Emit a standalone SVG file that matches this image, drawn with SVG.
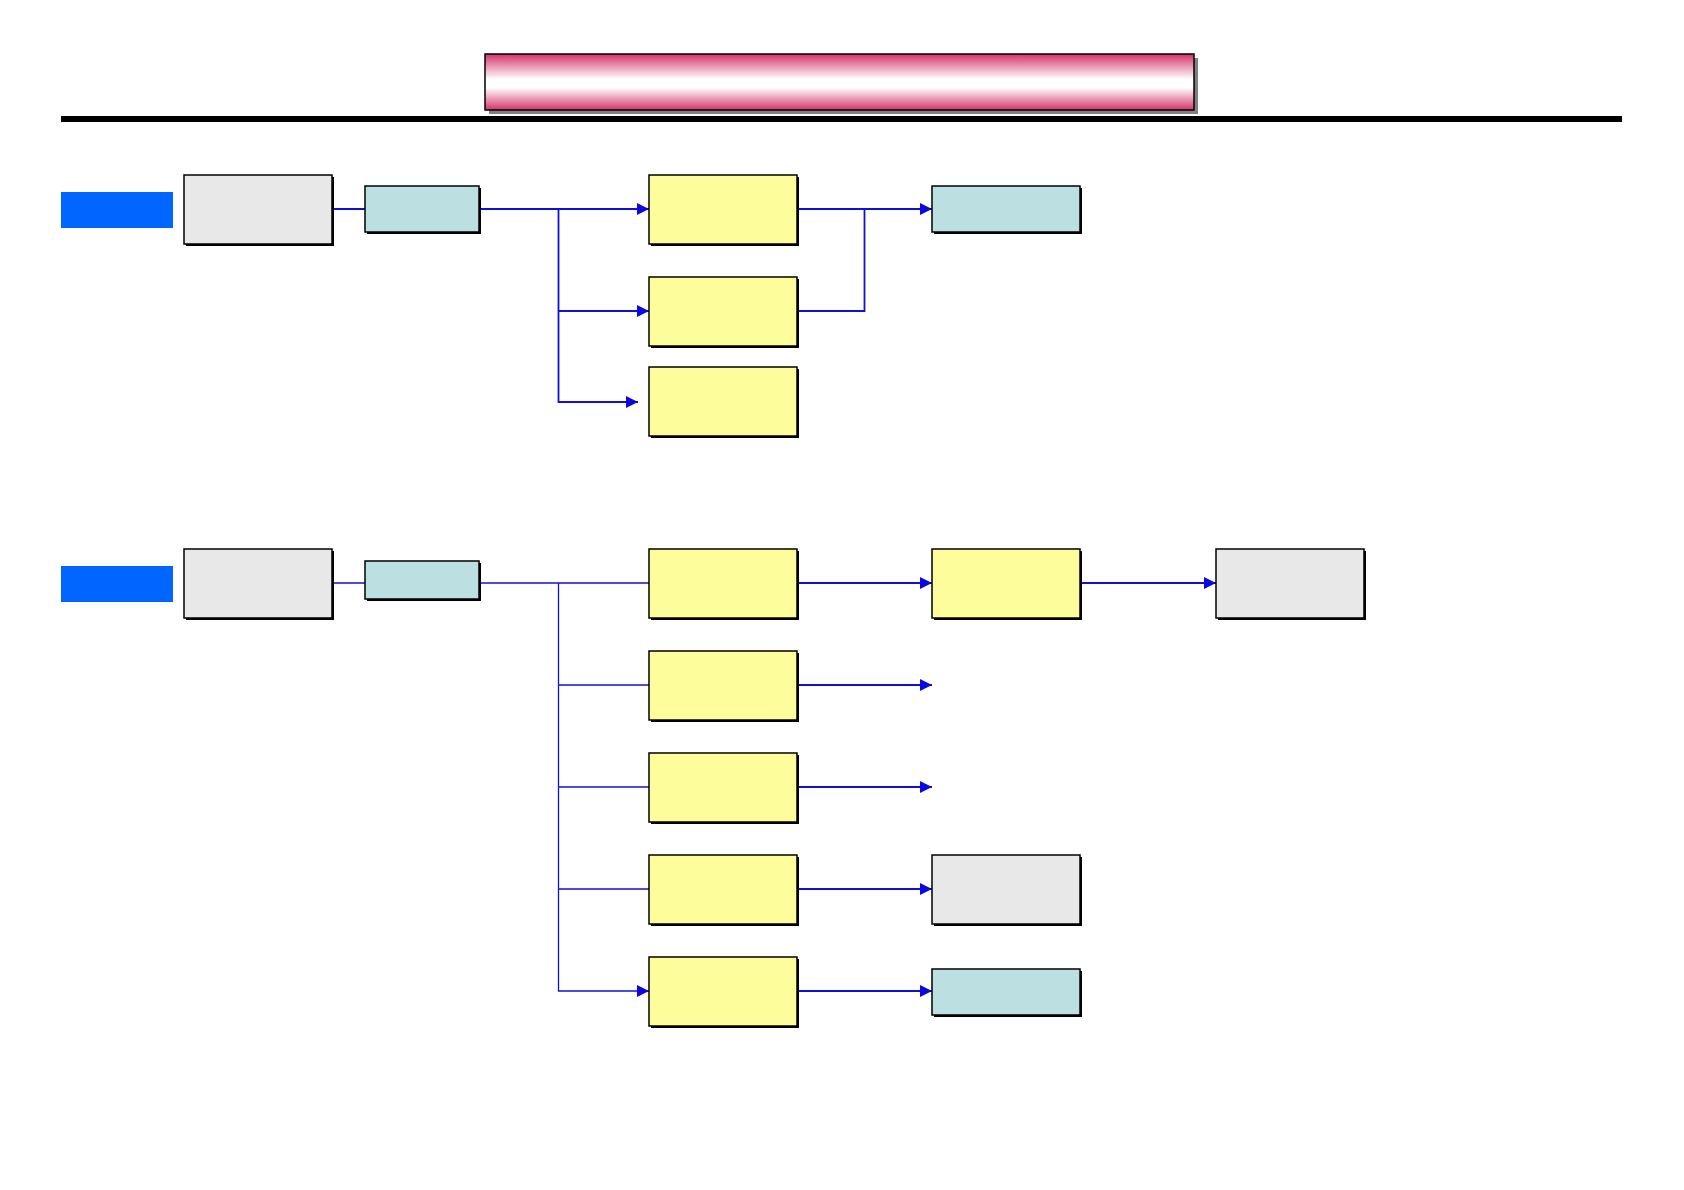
<svg xmlns="http://www.w3.org/2000/svg" width="1684" height="1190" viewBox="0 0 1684 1190">
<defs>
<linearGradient id="tg" x1="0" y1="0" x2="0" y2="1">
<stop offset="0" stop-color="#d4336a"/>
<stop offset="0.45" stop-color="#ffffff"/>
<stop offset="0.6" stop-color="#ffffff"/>
<stop offset="1" stop-color="#d4336a"/>
</linearGradient>
<marker id="ah" viewBox="0 0 10 10" refX="10" refY="5" markerWidth="12" markerHeight="12" markerUnits="userSpaceOnUse" orient="auto">
<path d="M0,0 L10,5 L0,10 Z" fill="#0a0ae0"/>
</marker>
</defs>
<style>
.box{stroke:#000;stroke-width:1.5}
.sh{fill:#000}
.gray{fill:#e8e8e8}
.teal{fill:#bce0e1}
.yel{fill:#fdfd9c}
.lbl{fill:#0066ff}
.c{fill:none;stroke:#1010dd;stroke-width:1.8}
.c2{fill:none;stroke:#1010dd;stroke-width:1.3}
</style>
<rect width="1684" height="1190" fill="#fff"/>
<g id="title">
<rect x="489" y="58" width="709" height="56" fill="#808080"/>
<rect x="485" y="54" width="709" height="56" fill="url(#tg)" stroke="#000" stroke-width="1.5"/>
</g>
<rect id="rule" x="61" y="116" width="1561" height="6" fill="#000"/>

<g id="connectors">
<path class="c" d="M332,209 H365"/>
<path class="c" d="M479,209 H649" marker-end="url(#ah)"/>
<path class="c" d="M558.5,209 V402 H638" marker-end="url(#ah)"/>
<path class="c" d="M558.5,311 H649" marker-end="url(#ah)"/>
<path class="c" d="M797,209 H932" marker-end="url(#ah)"/>
<path class="c" d="M797,311 H864.5 V209"/>

<path class="c2" d="M332,583 H365"/>
<path class="c2" d="M479,583 H649"/>
<path class="c2" d="M558.5,583 V991 H649" marker-end="url(#ah)"/>
<path class="c2" d="M558.5,685 H649"/>
<path class="c2" d="M558.5,787 H649"/>
<path class="c2" d="M558.5,889 H649"/>
<path class="c" d="M797,583 H932" marker-end="url(#ah)"/>
<path class="c" d="M1080,583 H1216" marker-end="url(#ah)"/>
<path class="c" d="M797,685 H932" marker-end="url(#ah)"/>
<path class="c" d="M797,787 H932" marker-end="url(#ah)"/>
<path class="c" d="M797,889 H932" marker-end="url(#ah)"/>
<path class="c" d="M797,991 H932" marker-end="url(#ah)"/>
</g>

<g id="label1"><rect class="lbl" x="61" y="192" width="112" height="36"/></g>
<g id="gray1"><rect class="sh" x="186" y="177" width="148" height="69"/><rect class="box gray" x="184" y="175" width="148" height="69"/></g>
<g id="teal1"><rect class="sh" x="367" y="188" width="114" height="46"/><rect class="box teal" x="365" y="186" width="114" height="46"/></g>
<g id="yel1"><rect class="sh" x="651" y="177" width="148" height="69"/><rect class="box yel" x="649" y="175" width="148" height="69"/></g>
<g id="yel2"><rect class="sh" x="651" y="279" width="148" height="69"/><rect class="box yel" x="649" y="277" width="148" height="69"/></g>
<g id="yel3"><rect class="sh" x="651" y="369" width="148" height="69"/><rect class="box yel" x="649" y="367" width="148" height="69"/></g>
<g id="teal2"><rect class="sh" x="934" y="188" width="148" height="46"/><rect class="box teal" x="932" y="186" width="148" height="46"/></g>

<g id="label2"><rect class="lbl" x="61" y="566" width="112" height="36"/></g>
<g id="gray2"><rect class="sh" x="186" y="551" width="148" height="69"/><rect class="box gray" x="184" y="549" width="148" height="69"/></g>
<g id="teal3"><rect class="sh" x="367" y="563" width="114" height="38"/><rect class="box teal" x="365" y="561" width="114" height="38"/></g>
<g id="yelA"><rect class="sh" x="651" y="551" width="148" height="69"/><rect class="box yel" x="649" y="549" width="148" height="69"/></g>
<g id="yelB"><rect class="sh" x="651" y="653" width="148" height="69"/><rect class="box yel" x="649" y="651" width="148" height="69"/></g>
<g id="yelC"><rect class="sh" x="651" y="755" width="148" height="69"/><rect class="box yel" x="649" y="753" width="148" height="69"/></g>
<g id="yelD"><rect class="sh" x="651" y="857" width="148" height="69"/><rect class="box yel" x="649" y="855" width="148" height="69"/></g>
<g id="yelE"><rect class="sh" x="651" y="959" width="148" height="69"/><rect class="box yel" x="649" y="957" width="148" height="69"/></g>
<g id="yelR"><rect class="sh" x="934" y="551" width="148" height="69"/><rect class="box yel" x="932" y="549" width="148" height="69"/></g>
<g id="grayR"><rect class="sh" x="1218" y="551" width="148" height="69"/><rect class="box gray" x="1216" y="549" width="148" height="69"/></g>
<g id="grayM"><rect class="sh" x="934" y="857" width="148" height="69"/><rect class="box gray" x="932" y="855" width="148" height="69"/></g>
<g id="teal4"><rect class="sh" x="934" y="971" width="148" height="46"/><rect class="box teal" x="932" y="969" width="148" height="46"/></g>
</svg>
